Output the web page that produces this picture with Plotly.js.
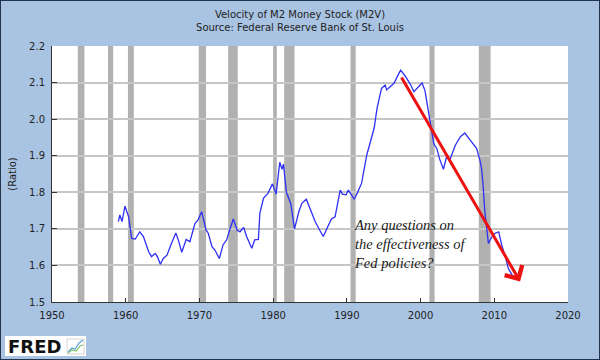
<!DOCTYPE html>
<html>
<head>
<meta charset="utf-8">
<script src="https://cdn.plot.ly/plotly-3.0.1.min.js"></script>
<style>
html,body{margin:0;padding:0;background:#a9c4e2;}
#wrap{position:relative;width:600px;height:360px;}
#frame{position:absolute;left:0;top:0;width:598px;height:358px;border:1px solid #23344d;pointer-events:none;}
</style>
</head>
<body>
<div id="wrap"><div id="chart" style="width:600px;height:360px;"></div><div id="frame"></div></div>
<script>
// M2 velocity (ratio)
const years = [1959.0,1959.2,1959.5,1959.9,1960.4,1960.8,1961.3,1961.9,1962.4,1963.1,1963.5,1964.0,1964.3,1964.7,1965.1,1965.6,1966.2,1966.8,1967.2,1967.6,1968.2,1968.7,1969.4,1969.8,1970.3,1970.6,1970.9,1971.2,1971.7,1972.1,1972.7,1973.2,1973.7,1974.1,1974.6,1975.1,1975.5,1976.0,1976.4,1977.1,1977.5,1978.0,1978.2,1978.7,1979.3,1979.9,1980.4,1980.9,1981.2,1981.4,1981.8,1982.4,1982.9,1983.5,1983.9,1984.5,1984.9,1985.2,1985.7,1986.3,1986.8,1987.3,1987.9,1988.4,1989.1,1989.4,1989.9,1990.2,1990.7,1991.0,1991.4,1992.0,1992.7,1993.1,1993.7,1994.1,1994.7,1995.2,1995.4,1995.9,1996.4,1997.0,1997.3,1997.9,1998.6,1999.1,1999.6,2000.2,2000.6,2001.1,2001.5,2001.8,2002.2,2002.6,2003.1,2003.5,2004.0,2004.7,2005.4,2006.0,2006.6,2007.2,2007.6,2008.1,2008.3,2008.5,2008.7,2009.0,2009.2,2009.7,2010.1,2010.6,2011.0,2011.5,2011.9,2012.4,2012.8];
const velocity = [1.720,1.738,1.720,1.762,1.733,1.674,1.672,1.692,1.679,1.638,1.624,1.633,1.624,1.603,1.619,1.628,1.660,1.689,1.665,1.636,1.671,1.665,1.715,1.724,1.747,1.720,1.697,1.688,1.651,1.642,1.619,1.656,1.670,1.697,1.727,1.697,1.692,1.704,1.679,1.647,1.670,1.671,1.743,1.784,1.797,1.823,1.795,1.882,1.863,1.877,1.800,1.768,1.700,1.748,1.770,1.781,1.761,1.747,1.720,1.697,1.679,1.701,1.727,1.733,1.806,1.795,1.793,1.806,1.790,1.781,1.797,1.825,1.902,1.934,1.975,2.030,2.084,2.093,2.080,2.089,2.098,2.123,2.134,2.118,2.096,2.075,2.085,2.099,2.078,2.015,1.975,1.932,1.920,1.890,1.863,1.895,1.890,1.928,1.952,1.962,1.946,1.929,1.920,1.884,1.861,1.815,1.752,1.697,1.660,1.679,1.688,1.692,1.656,1.624,1.592,1.574,1.569];

// US recessions (NBER), decimal years
const recessionStart = [1953.5,1957.6,1960.3,1969.9,1973.9,1980.0,1981.5,1990.5,2001.2,2007.9];
const recessionEnd   = [1954.4,1958.3,1961.1,1970.9,1975.2,1980.5,1982.9,1991.2,2001.9,2009.5];

const yTicks = [1.5,1.6,1.7,1.8,1.9,2.0,2.1,2.2];
const xTicks = [1950,1960,1970,1980,1990,2000,2010,2020];

// red trend arrow (start -> tip), data units
const arrowFrom = [1997.3, 2.118];
const arrowTo = [2013.5, 1.556];

const noteLines = ["Any questions on", "the effectiveness of", "Fed policies?"];

// pixel helpers for page decorations (plot area 52..568 x 46..302)
const L = 52, R = 568, T = 46, B = 302;
const px = v => (v - L) / (R - L);
const py = v => (B - v) / (B - T);

const shapes = recessionStart.map((s, i) => ({
  type: 'rect', xref: 'x', yref: 'paper', x0: s, x1: recessionEnd[i], y0: 0, y1: 1,
  fillcolor: '#b1b1b1', line: {width: 0}, layer: 'below'
}));
// FRED logo box
shapes.push({type:'rect', xref:'paper', yref:'paper', x0: px(5), x1: px(86), y0: py(356), y1: py(336),
  fillcolor:'#ffffff', line:{width:0}, layer:'above'});
shapes.push({type:'path', xref:'paper', yref:'paper',
  path: `M ${px(68)} ${py(352)} L ${px(72)} ${py(348)} L ${px(75)} ${py(349)} L ${px(79)} ${py(343)} L ${px(83)} ${py(340)}`,
  line:{color:'#5aa0d8', width:1.2}, layer:'above'});
shapes.push({type:'path', xref:'paper', yref:'paper',
  path: `M ${px(68)} ${py(353)} L ${px(72)} ${py(350)} L ${px(76)} ${py(351)} L ${px(80)} ${py(346)} L ${px(83)} ${py(345)}`,
  line:{color:'#7cc36a', width:1.2}, layer:'above'});
shapes.push({type:'rect', xref:'paper', yref:'paper', x0: px(67), x1: px(84), y0: py(354), y1: py(339),
  fillcolor:'rgba(0,0,0,0)', line:{color:'#c8c8c8', width:0.8}, layer:'above'});

const traces = [{
  x: years, y: velocity, type: 'scatter', mode: 'lines',
  line: {color: '#2f2ff5', width: 1.3}, hoverinfo: 'skip'
}];

const font = 'DejaVu Sans, Verdana, sans-serif';

const layout = {
  width: 600, height: 360,
  margin: {l: L, r: 600 - R, t: T, b: 360 - B},
  paper_bgcolor: '#a9c4e2', plot_bgcolor: '#ffffff',
  showlegend: false,
  font: {family: font, size: 10, color: '#222222'},
  title: {
    text: 'Velocity of M2 Money Stock (M2V)<br>Source: Federal Reserve Bank of St. Louis',
    font: {family: font, size: 10, color: '#222222'},
    x: 0.5, xref: 'container', y: 1 - 18/360, yref: 'container', yanchor: 'middle'
  },
  xaxis: {
    range: [1950, 2020], tickvals: xTicks, ticktext: xTicks.map(String),
    showgrid: false, zeroline: false, showline: true, linecolor: '#333333', linewidth: 1,
    ticks: 'inside', ticklen: 4, tickcolor: '#333333', tickwidth: 1,
    tickfont: {family: font, size: 10, color: '#222222'}, ticklabelstandoff: 4,
    fixedrange: true
  },
  yaxis: {
    range: [1.5, 2.2], tickvals: yTicks, ticktext: yTicks.map(v => v.toFixed(1)),
    showgrid: true, gridcolor: '#c6c6c6', gridwidth: 2, zeroline: false,
    showline: true, linecolor: '#333333', linewidth: 1,
    ticks: 'inside', ticklen: 5, tickcolor: '#333333', tickwidth: 1,
    tickfont: {family: font, size: 10, color: '#222222'}, ticklabelstandoff: 4,
    title: {text: '(Ratio)', font: {family: font, size: 10, color: '#222222'}, standoff: 10},
    fixedrange: true
  },
  shapes: shapes,
  annotations: [
    {x: arrowTo[0], y: arrowTo[1], xref: 'x', yref: 'y', ax: arrowFrom[0], ay: arrowFrom[1],
     axref: 'x', ayref: 'y', text: '', showarrow: true, arrowhead: 4, arrowsize: 1.3,
     arrowwidth: 3, arrowcolor: '#ee1111'},
    {x: 1990.66, y: 1.738, xref: 'x', yref: 'y', xanchor: 'left', yanchor: 'top', align: 'left',
     text: noteLines.join('<br>'), showarrow: false,
     font: {family: 'Liberation Serif, Times New Roman, serif', size: 14.5, color: '#1a1a1a', style: 'italic'}},
    {x: 0.5, y: 1 - 335/360, xref: 'container', yref: 'container', xanchor: 'center', yanchor: 'middle',
     text: 'Shaded areas indicate US recessions.', showarrow: false,
     font: {family: font, size: 10, color: '#222222'}},
    {x: 0.5, y: 1 - 350/360, xref: 'container', yref: 'container', xanchor: 'center', yanchor: 'middle',
     text: '2012 research.stlouisfed.org', showarrow: false,
     font: {family: font, size: 10, color: '#222222'}},
    {x: px(6), y: py(346), xref: 'paper', yref: 'paper', xanchor: 'left', yanchor: 'middle',
     text: '<b>FRED</b>', showarrow: false,
     font: {family: 'DejaVu Sans, sans-serif', size: 18, color: '#111111'}}
  ]
};

Plotly.newPlot('chart', traces, layout, {displayModeBar: false, staticPlot: true});
</script>
</body>
</html>
